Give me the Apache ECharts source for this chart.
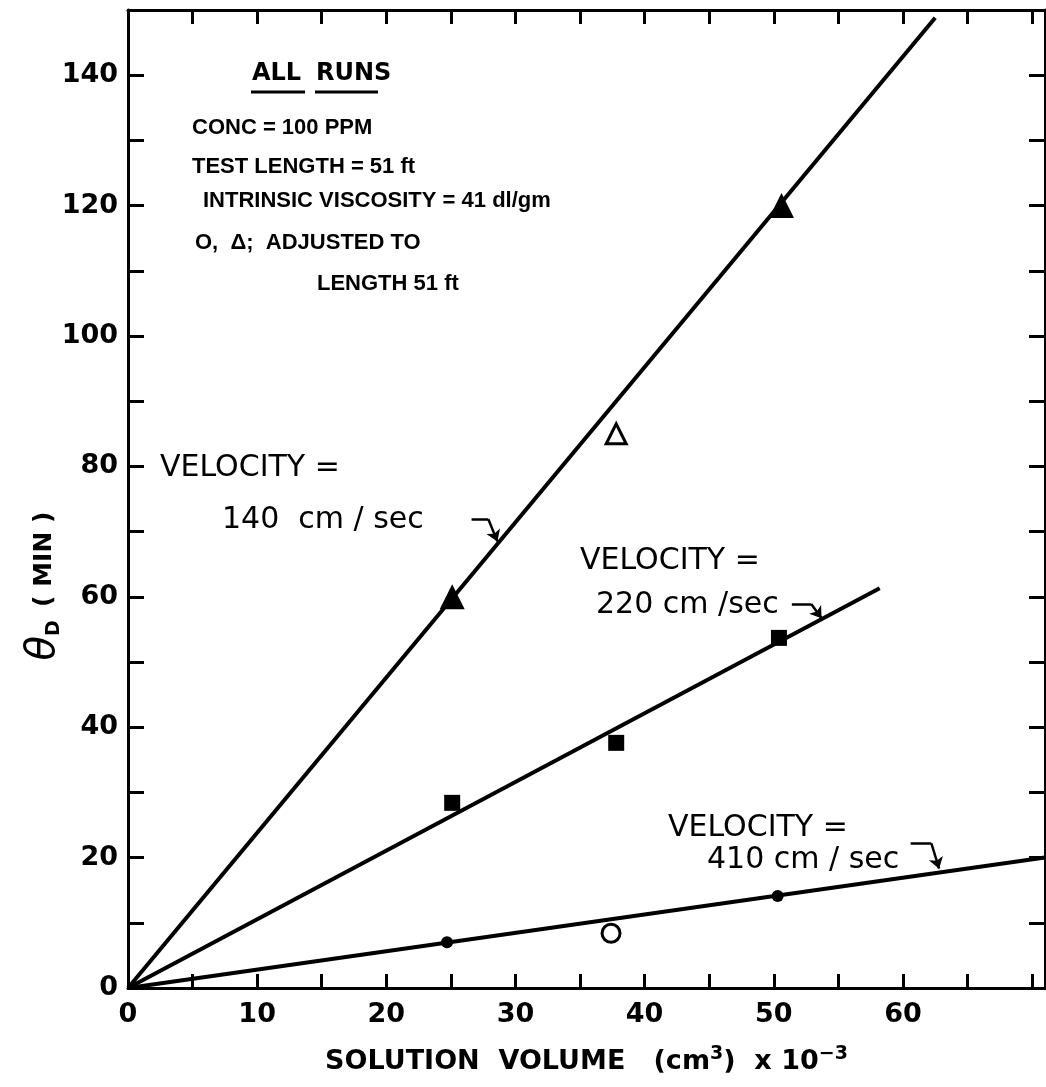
<!DOCTYPE html>
<html>
<head>
<meta charset="utf-8">
<script src="https://cdn.jsdelivr.net/npm/echarts@6/dist/echarts.min.js"></script>
<style>
  html, body { margin: 0; padding: 0; background: #fff; }
  #chart { width: 1046px; height: 1087px; }
</style>
</head>
<body>
<div id="chart"></div>
<script>
// Solution volume (cm^3 x 10^-3) and drag-reduction time θD (min)

// Fitted straight lines through the origin, one per velocity
const fit140X = [0, 62.5];
const fit140Y = [0, 148.8];
const fit220X = [0, 58.2];
const fit220Y = [0, 61.3];
const fit410X = [0, 71];
const fit410Y = [0, 20.0];

// 140 cm/sec runs (triangles; open = adjusted to length 51 ft)
const tri140X = [25.1, 50.6];
const tri140Y = [60.0, 120.0];
const triOpen140X = [37.8];
const triOpen140Y = [85.0];

// 220 cm/sec runs (squares)
const sq220X = [25.1, 37.8, 50.4];
const sq220Y = [28.4, 37.6, 53.7];

// 410 cm/sec runs (circles; open = adjusted to length 51 ft)
const dot410X = [24.7, 50.3];
const dot410Y = [7.0, 14.1];
const dotOpen410X = [37.4];
const dotOpen410Y = [8.4];

// Leader arrows from the velocity labels to their lines:
// a short horizontal bar, then a bent tip ending on the line
const leader140 = [[26.6, 71.9], [27.9, 71.9], [28.6, 68.5]];
const leader220 = [[51.4, 58.9], [52.9, 58.9], [53.7, 56.7]];
const leader410 = [[60.6, 22.2], [62.2, 22.2], [62.8, 18.3]];

// Axis ranges and tick steps
const xMin = 0, xMax = 71, xStep = 5;
const yMin = 0, yMax = 150, yStep = 10;
const xLabelEvery = 10, xLabelLast = 60;
const yLabelEvery = 20, yLabelLast = 140;

const pairs = (xs, ys) => xs.map((x, i) => [x, ys[i]]);

const FONT = 'DejaVu Sans';
const INK = '#000';

const chart = echarts.init(document.getElementById('chart'), null, { renderer: 'canvas' });

const axisLineStyle = { color: INK, width: 3 };
const tickStyle = { color: INK, width: 3 };

function xAxisBase(position, withLabels) {
  return {
    type: 'value', min: xMin, max: xMax, interval: xStep, position: position,
    axisLine: { show: true, onZero: false, lineStyle: axisLineStyle },
    axisTick: { show: true, inside: true, length: 14, lineStyle: tickStyle },
    splitLine: { show: false },
    axisLabel: withLabels ? {
      show: true, color: INK, fontFamily: FONT, fontWeight: 'bold', fontSize: 27, margin: 13,
      showMaxLabel: false,
      formatter: v => (Math.abs(v % xLabelEvery) < 1e-9 && v <= xLabelLast) ? String(v) : ''
    } : { show: false }
  };
}

function yAxisBase(position, withLabels) {
  return {
    type: 'value', min: yMin, max: yMax, interval: yStep, position: position,
    axisLine: { show: true, onZero: false, lineStyle: axisLineStyle },
    axisTick: { show: true, inside: true, length: 16, lineStyle: tickStyle },
    splitLine: { show: false },
    axisLabel: withLabels ? {
      show: true, color: INK, fontFamily: FONT, fontWeight: 'bold', fontSize: 27, margin: 10,
      formatter: v => (Math.abs(v % yLabelEvery) < 1e-9 && v <= yLabelLast) ? String(v) : ''
    } : { show: false }
  };
}

const xBottom = xAxisBase('bottom', true);
xBottom.name = '{t|SOLUTION  VOLUME   (cm}{sup|3}{t|)  x 10}{sup|−3}';
xBottom.nameLocation = 'middle';
xBottom.nameGap = 56;
xBottom.nameTextStyle = {
  rich: {
    t: { fontFamily: FONT, fontWeight: 'bold', fontSize: 27, color: INK, lineHeight: 36 },
    sup: { fontFamily: FONT, fontWeight: 'bold', fontSize: 19, color: INK, lineHeight: 36, padding: [0, 0, 16, 0] }
  }
};

const lineSeries = (name, xs, ys) => ({
  name: name, type: 'line', data: pairs(xs, ys), showSymbol: false,
  lineStyle: { color: INK, width: 4 }, silent: true, z: 2
});

const markerSeries = (name, xs, ys, symbol, size, open) => ({
  name: name, type: 'scatter', data: pairs(xs, ys), symbol: symbol, symbolSize: size,
  itemStyle: open
    ? { color: '#fff', borderColor: INK, borderWidth: 3, opacity: 1 }
    : { color: INK, opacity: 1 },
  z: 4
});

const leaderBars = (name, leaders) => ({
  name: name, type: 'lines', coordinateSystem: 'cartesian2d',
  data: leaders.map(p => ({ coords: [p[0], p[1]] })),
  symbol: 'none',
  lineStyle: { color: INK, width: 2.5, opacity: 1 }, z: 3, silent: true
});
const leaderTips = (name, leaders) => ({
  name: name, type: 'lines', coordinateSystem: 'cartesian2d',
  data: leaders.map(p => ({ coords: [p[1], p[2]] })),
  symbol: ['none', 'arrow'], symbolSize: [0, 11],
  lineStyle: { color: INK, width: 2.5, opacity: 1 }, z: 3, silent: true
});

const headerText = (text, x, y) => ({
  type: 'text', left: x, top: y,
  style: { text: text, fill: INK, font: 'bold 22px "Liberation Sans"' }
});
const noteText = (text, x, y) => ({
  type: 'text', left: x, top: y,
  style: { text: text, fill: INK, font: '30px "DejaVu Sans"' }
});

chart.setOption({
  animation: false,
  backgroundColor: '#fff',
  grid: { left: 128, right: 1, top: 10, bottom: 99, containLabel: false },
  xAxis: [xBottom, xAxisBase('top', false)],
  yAxis: [yAxisBase('left', true), yAxisBase('right', false)],
  series: [
    lineSeries('140 cm/sec', fit140X, fit140Y),
    lineSeries('220 cm/sec', fit220X, fit220Y),
    lineSeries('410 cm/sec', fit410X, fit410Y),
    markerSeries('140 cm/sec runs', tri140X, tri140Y, 'triangle', 25, false),
    markerSeries('140 cm/sec adjusted', triOpen140X, triOpen140Y, 'triangle', 20, true),
    markerSeries('220 cm/sec runs', sq220X, sq220Y, 'rect', 16, false),
    markerSeries('410 cm/sec runs', dot410X, dot410Y, 'circle', 12, false),
    markerSeries('410 cm/sec adjusted', dotOpen410X, dotOpen410Y, 'circle', 18, true),
    leaderBars('leader bars', [leader140, leader220, leader410]),
    leaderTips('leader tips', [leader140, leader220, leader410])
  ],
  graphic: [
    // heading block
    { type: 'text', left: 252, top: 62, style: { text: 'ALL', fill: INK, font: 'bold 24px "DejaVu Sans"' } },
    { type: 'text', left: 316, top: 62, style: { text: 'RUNS', fill: INK, font: 'bold 24px "DejaVu Sans"' } },
    { type: 'line', shape: { x1: 251, y1: 92, x2: 305, y2: 92 }, style: { stroke: INK, lineWidth: 3 } },
    { type: 'line', shape: { x1: 315, y1: 92, x2: 378, y2: 92 }, style: { stroke: INK, lineWidth: 3 } },
    headerText('CONC = 100 PPM', 192, 117),
    headerText('TEST LENGTH = 51 ft', 192, 156),
    headerText('INTRINSIC VISCOSITY = 41 dl/gm', 203, 190),
    headerText('O,  Δ;  ADJUSTED TO', 195, 232),
    headerText('LENGTH 51 ft', 317, 273),
    // velocity labels
    noteText('VELOCITY =', 160, 453),
    noteText('140  cm / sec', 222, 505),
    noteText('VELOCITY =', 580, 546),
    noteText('220 cm /sec', 596, 590),
    noteText('VELOCITY =', 668, 813),
    noteText('410 cm / sec', 707, 845),
    // y-axis title, reading bottom to top
    {
      type: 'text', x: 44, y: 586, rotation: Math.PI / 2,
      style: {
        text: '{th|θ}{d|D}    {n|( MIN )}',
        align: 'center', verticalAlign: 'middle',
        rich: {
          th: { fontFamily: FONT, fontSize: 40, fontStyle: 'italic', fill: INK, lineHeight: 46 },
          d: { fontFamily: FONT, fontWeight: 'bold', fontSize: 19, fill: INK, lineHeight: 46, padding: [20, 0, 0, 0] },
          n: { fontFamily: FONT, fontWeight: 'bold', fontSize: 25, fill: INK, lineHeight: 46 }
        }
      }
    }
  ]
});
</script>
</body>
</html>
